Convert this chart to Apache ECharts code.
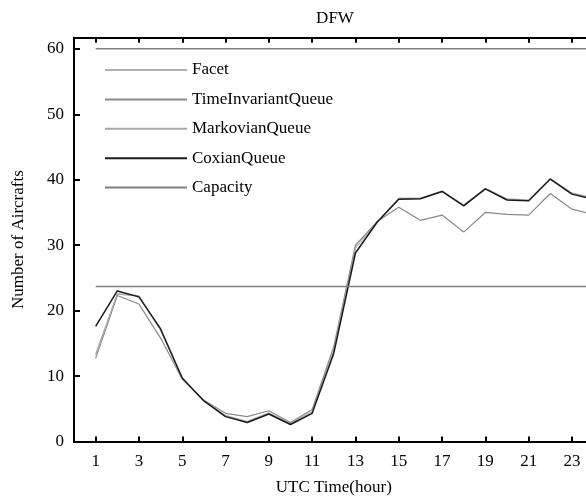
<!DOCTYPE html>
<html>
<head>
<meta charset="utf-8">
<script src="https://cdn.jsdelivr.net/npm/echarts@6/dist/echarts.min.js"></script>
<style>html,body{margin:0;padding:0;background:#fff}#c{width:586px;height:498px}</style>
</head>
<body>
<div id="c"></div>
<script>
const hours = [1,2,3,4,5,6,7,8,9,10,11,12,13,14,15,16,17,18,19,20,21,22,23,24];
const xTickLabels = [1,3,5,7,9,11,13,15,17,19,21,23];
const yTickLabels = [0,10,20,30,40,50,60];
const facet = [13.4,22.6,22.3,17.0,9.6,6.2,4.0,3.1,4.4,2.8,4.6,14.3,29.8,33.6,37.2,37.2,38.3,36.2,38.7,37.1,36.9,40.2,38.0,37.2];
const timeInvariantQueue = [12.7,22.3,21.0,15.8,9.5,6.3,4.3,3.8,4.7,2.9,4.9,14.5,30.0,33.6,35.8,33.8,34.6,32.0,35.0,34.7,34.6,37.9,35.5,34.7];
const markovianQueue = [13.2,22.5,22.2,17.0,9.6,6.2,3.9,3.0,4.3,2.7,4.5,14.0,29.5,33.5,37.1,37.1,38.2,36.1,38.6,37.0,36.8,40.1,37.9,37.1];
const coxianQueue = [17.6,23.0,22.1,17.2,9.7,6.2,3.8,2.9,4.2,2.6,4.3,13.5,28.8,33.5,37.0,37.1,38.2,36.0,38.6,36.9,36.8,40.1,37.8,37.0];
const capacityHigh = 60;
const capacityLow = 23.7;

const pair = arr => hours.map((h,i)=>[h,arr[i]]);
const capData = [[hours[0],capacityHigh],[hours[hours.length-1],capacityHigh],'-',[hours[0],capacityLow],[hours[hours.length-1],capacityLow]];

const font = 'Liberation Serif';
const chart = echarts.init(document.getElementById('c'));
chart.setOption({
  animation:false,
  backgroundColor:'#fff',
  title:{text:'DFW',left:330,textAlign:'center',top:5,textStyle:{fontFamily:font,fontSize:17,fontWeight:'normal',color:'#000'}},
  legend:{
    orient:'vertical',left:99,top:56,itemWidth:82,itemHeight:14,itemGap:11.4,
    itemStyle:{opacity:0},
    textStyle:{fontFamily:font,fontSize:17,color:'#000',lineHeight:18},
    data:['Facet','TimeInvariantQueue','MarkovianQueue','CoxianQueue','Capacity']
  },
  grid:{left:74,right:-7.6,top:37.7,bottom:56.5,outerBoundsMode:'none',containLabel:false},
  xAxis:[{
    type:'value',min:0,max:24,position:'bottom',
    name:'UTC Time(hour)',nameLocation:'middle',nameGap:37.5,
    nameTextStyle:{fontFamily:font,fontSize:17,color:'#000'},
    axisLine:{lineStyle:{color:'#000',width:2}},
    axisTick:{inside:true,length:5,customValues:xTickLabels,lineStyle:{color:'#000',width:2}},
    axisLabel:{customValues:xTickLabels,fontFamily:font,fontSize:17,color:'#000',margin:12},
    splitLine:{show:false}
  },{
    type:'value',min:0,max:24,position:'top',
    axisLine:{lineStyle:{color:'#000',width:2}},
    axisTick:{inside:true,length:5,customValues:xTickLabels,lineStyle:{color:'#000',width:2}},
    axisLabel:{show:false},splitLine:{show:false}
  }],
  yAxis:{
    type:'value',min:0,max:61.7,
    name:'Number of Aircrafts',nameLocation:'middle',nameGap:47,
    nameTextStyle:{fontFamily:font,fontSize:17,color:'#000'},
    axisLine:{lineStyle:{color:'#000',width:2}},
    axisTick:{inside:true,length:6,customValues:yTickLabels,lineStyle:{color:'#000',width:2}},
    axisLabel:{customValues:yTickLabels,fontFamily:font,fontSize:17,color:'#000',margin:10},
    splitLine:{show:false}
  },
  series:[
    {name:'Facet',type:'line',symbol:'none',data:pair(facet),lineStyle:{color:'#b0b0b0',width:1},itemStyle:{color:'#b0b0b0'}},
    {name:'TimeInvariantQueue',type:'line',symbol:'none',data:pair(timeInvariantQueue),lineStyle:{color:'#8a8a8a',width:1.2},itemStyle:{color:'#8a8a8a'}},
    {name:'MarkovianQueue',type:'line',symbol:'none',data:pair(markovianQueue),lineStyle:{color:'#a8a8a8',width:1},itemStyle:{color:'#a8a8a8'}},
    {name:'CoxianQueue',type:'line',symbol:'none',data:pair(coxianQueue),lineStyle:{color:'#1a1a1a',width:1.5},itemStyle:{color:'#1a1a1a'}},
    {name:'Capacity',type:'line',symbol:'none',data:capData,connectNulls:false,lineStyle:{color:'#808080',width:1.5},itemStyle:{color:'#808080'}}
  ]
});
</script>
</body>
</html>
